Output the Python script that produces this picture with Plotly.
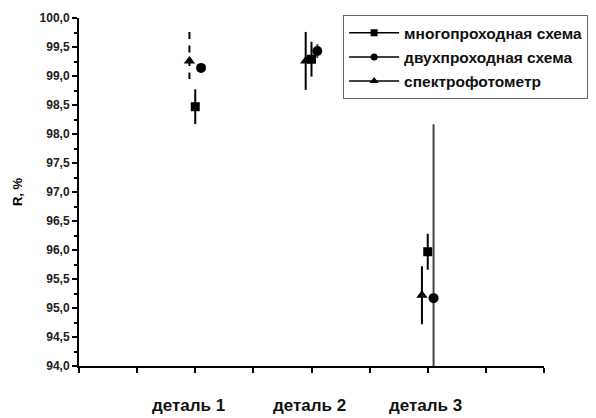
import plotly.graph_objects as go

categories = ["деталь 1", "деталь 2", "деталь 3"]
cat_pos = [2, 4, 6]

multi_vals = [98.47, 99.29, 95.97]
multi_err = [0.30, 0.30, 0.31]

two_vals = [99.14, 99.43, 95.17]
two_err = [0.05, 0.12, 3.00]

spectro_vals = [99.26, 99.26, 95.22]
spectro_err_plus = [0.50, 0.50, 0.50]
spectro_err_minus = [0.31, 0.50, 0.50]

series_names = ["многопроходная схема", "двухпроходная схема", "спектрофотометр"]

FONT = "Liberation Sans, Arial, sans-serif"
offset = {"multi": 0.0, "two": 0.1, "spectro": -0.1}

fig = go.Figure()

# spectrophotometer: first error bar drawn dashed separately (top to bottom)
sp_x = [p + offset["spectro"] for p in cat_pos]
sp_plus_solid = [0 if i == 0 else e for i, e in enumerate(spectro_err_plus)]
sp_minus_solid = [0 if i == 0 else e for i, e in enumerate(spectro_err_minus)]
fig.add_trace(go.Scatter(
    x=[sp_x[0], sp_x[0]],
    y=[spectro_vals[0] + spectro_err_plus[0], spectro_vals[0] - spectro_err_minus[0]],
    mode="lines", line=dict(color="black", width=2, dash="7px,6.5px"),
    showlegend=False, hoverinfo="skip"))
fig.add_trace(go.Scatter(
    x=sp_x, y=spectro_vals, mode="markers",
    marker=dict(symbol="triangle-up", size=10, color="black"),
    error_y=dict(type="data", array=sp_plus_solid, arrayminus=sp_minus_solid,
                 symmetric=False, visible=True,
                 color="black", thickness=2, width=0),
    showlegend=False))

fig.add_trace(go.Scatter(
    x=[p + offset["multi"] for p in cat_pos], y=multi_vals, mode="markers",
    marker=dict(symbol="square", size=9, color="black"),
    error_y=dict(type="data", array=multi_err, visible=True,
                 color="black", thickness=2, width=0),
    showlegend=False))

fig.add_trace(go.Scatter(
    x=[p + offset["two"] for p in cat_pos], y=two_vals, mode="markers",
    marker=dict(symbol="circle", size=10, color="black"),
    error_y=dict(type="data", array=two_err, visible=True,
                 color="#444444", thickness=2, width=0),
    showlegend=False))

# legend entries
for i, (name, sym, sz) in enumerate(zip(series_names, ["square", "circle", "triangle-up"], [7, 7, 8])):
    fig.add_trace(go.Scatter(
        x=[None], y=[None], mode="lines+markers", name=name,
        legendgroup=f"g{i}",
        line=dict(color="black", width=1.5),
        marker=dict(symbol=sym, size=sz, color="black")))

for cat, xpos in zip(categories, [1.88, 3.96, 5.96]):
    fig.add_annotation(x=xpos, xref="x", y=-0.114, yref="paper",
                       text=f"<b>{cat}</b>", showarrow=False, yanchor="middle",
                       font=dict(family=FONT, size=17, color="#111111"))

# page body has an 8px default margin: figure is sized to fit the 596x418 window
fig.update_layout(
    width=588, height=410,
    margin=dict(l=71, r=52, t=10, b=52, autoexpand=False),
    paper_bgcolor="white", plot_bgcolor="white",
    separators=", ",
    font=dict(family=FONT, color="black"),
    showlegend=True,
    legend=dict(x=0.568, y=1.008, xanchor="left", yanchor="top",
                bordercolor="#666666", borderwidth=1, bgcolor="white",
                font=dict(family=FONT, size=15.5, color="#111111", weight="bold"),
                tracegroupgap=1, itemwidth=50),
    xaxis=dict(range=[0, 8], tickmode="linear", tick0=0, dtick=1,
               showticklabels=False, showgrid=False, zeroline=False,
               showline=True, linecolor="black", linewidth=2,
               ticks="outside", ticklen=5, tickwidth=1.5, tickcolor="black",
               automargin=False),
    yaxis=dict(range=[94, 100], tickmode="linear", tick0=94, dtick=0.5,
               tickformat=".1f", showgrid=False, zeroline=False,
               showline=True, linecolor="black", linewidth=2,
               ticks="outside", ticklen=5, tickwidth=1.5, tickcolor="black",
               minor=dict(ticks="outside", ticklen=3, tickwidth=1.5,
                          tickcolor="black", dtick=0.25),
               tickfont=dict(family=FONT, size=12, color="#222222", weight="bold"),
               title=dict(text="R, %", font=dict(family=FONT, size=13, weight="bold"),
                          standoff=14),
               automargin=False),
)

fig.write_html("out.html")
